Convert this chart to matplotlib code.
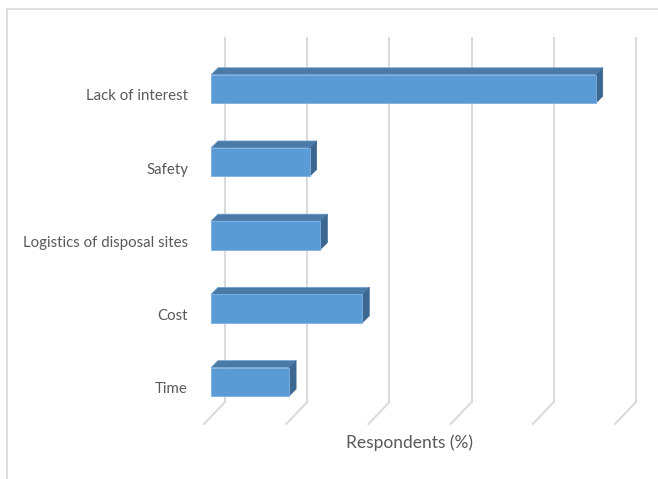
import matplotlib
matplotlib.use("Agg")
import matplotlib.pyplot as plt
from matplotlib.patches import Polygon, Rectangle

# data (respondents %), top to bottom
categories = ['Lack of interest', 'Safety', 'Logistics of disposal sites', 'Cost', 'Time']
values = [46.8, 12.0, 13.3, 18.4, 9.5]
grid_ticks = [0, 10, 20, 30, 40, 50]

plt.rcParams['font.family'] = ['Lato', 'DejaVu Sans']

W, H = 658, 479
fig = plt.figure(figsize=(W / 100, H / 100), dpi=100)

# axes placed in pixel terms so the fake 3d offsets can be given in pixels
px_x0, px_x1 = 180, 650
px_y0, px_y1 = 30, 470
sx = 8.22      # pixels per 1 %
sy = 73.2      # pixels per category
x_zero = 211   # pixel of value 0 on the bar front plane
y_first = 89   # pixel of first category centre

ax = fig.add_axes([px_x0 / W, 1 - px_y1 / H, (px_x1 - px_x0) / W, (px_y1 - px_y0) / H])
ax.set_xlim((px_x0 - x_zero) / sx, (px_x1 - x_zero) / sx)
ax.set_ylim((px_y1 - y_first) / sy, (px_y0 - y_first) / sy)
ax.axis('off')

def px2x(p):
    return p / sx

def px2y(p):
    return p / sy

grid_col = '#d9d9d9'
wall_top = px2y(38 - y_first)
wall_bot = px2y(402 - y_first)
for g in grid_ticks:
    xb = g + px2x(14)
    xf = g - px2x(7)
    ax.plot([xb, xb], [wall_top, wall_bot], color=grid_col, lw=1.4, zorder=1)
    ax.plot([xb, xf], [wall_bot, wall_bot + px2y(22)], color=grid_col, lw=1.4, zorder=1)

front = '#5b9bd5'
top = '#4a7aa6'
side = '#3c6790'
h = px2y(28.5)
dx, dy = px2x(7), px2y(7)
for i, (cat, v) in enumerate(zip(categories, values)):
    y0, y1 = i - h / 2, i + h / 2
    ax.add_patch(Polygon([(0, y0), (v, y0), (v + dx, y0 - dy), (dx, y0 - dy)],
                         closed=True, fc=top, ec='#6fa3d6', lw=0.5, zorder=3))
    ax.add_patch(Polygon([(v, y0), (v, y1), (v + dx, y1 - dy), (v + dx, y0 - dy)],
                         closed=True, fc=side, ec=side, lw=0.5, zorder=3))
    ax.add_patch(Rectangle((0, y0), v, h, fc=front, ec='#7fb0e0', lw=0.6, zorder=4))
    ax.text(px2x(188 - x_zero), i + px2y(7.5), cat, ha='right', va='center',
            fontsize=10.8, color='#595959')

ax.text(25 - px2x(7), px2y(443 - y_first), 'Respondents (%)', ha='center', va='center',
        fontsize=12.5, color='#595959', clip_on=False)

# chart area border (runs past the right and bottom edges)
fig.patches.append(Rectangle((7 / W, -0.1), 1.2, (H - 9) / H + 0.1,
                             transform=fig.transFigure, fill=False,
                             ec='#d9d9d9', lw=1.2))

fig.savefig('out.png', dpi=100)
